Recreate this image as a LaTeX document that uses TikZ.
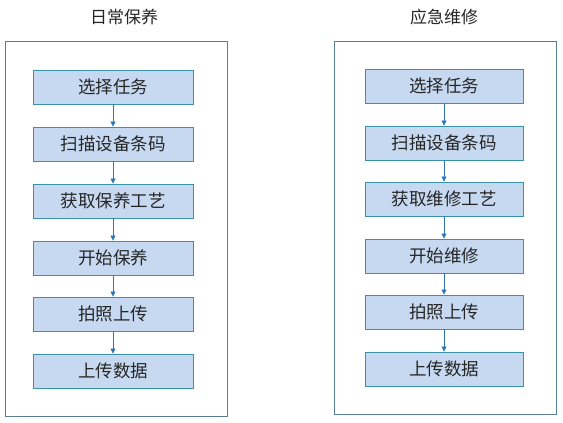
\documentclass[tikz,border=0pt]{standalone}
\usepackage{fontspec}
\newfontfamily\cjk{Noto Sans CJK SC}
\usetikzlibrary{arrows.meta}
\definecolor{boxfill}{HTML}{C6D9F1}
\definecolor{boxline}{HTML}{3A93A5}
\definecolor{outerline}{HTML}{5A7D9A}
\definecolor{arrowcol}{HTML}{2E75B6}
\begin{document}
\begin{tikzpicture}[x=1pt,y=-1pt,
  stepbox/.style={draw=boxline,fill=boxfill,line width=0.9pt,minimum width=160pt,minimum height=34pt,inner sep=0pt,font=\cjk\fontsize{17.5}{19}\selectfont,text=black!85},
  outerbox/.style={draw=outerline,line width=0.9pt,fill=white},
  titletext/.style={font=\cjk\fontsize{17}{19}\selectfont,text=black!85},
  flow/.style={draw=arrowcol,line width=0.8pt,-{Triangle[length=5pt,width=5pt]}}]
\useasboundingbox (0,0) rectangle (563,423);
\fill[white] (0,0) rectangle (563,423);
% left column
\node[titletext] (lt) at (124,17) {日常保养};
\draw[outerbox] (5,41) rectangle (227,416);
\node[stepbox] (l1) at (113,87) {选择任务};
\node[stepbox] (l2) at (113,144) {扫描设备条码};
\node[stepbox] (l3) at (113,201) {获取保养工艺};
\node[stepbox] (l4) at (113,258) {开始保养};
\node[stepbox] (l5) at (113,314) {拍照上传};
\node[stepbox] (l6) at (113,371) {上传数据};
\foreach \a/\b in {l1/l2,l2/l3,l3/l4,l4/l5,l5/l6}
  \draw[flow] (\a.south) -- (\b.north);
% right column
\node[titletext] (rt) at (444,17) {应急维修};
\draw[outerbox] (334,41) rectangle (556,414);
\node[stepbox,minimum width=158pt] (r1) at (444,86) {选择任务};
\node[stepbox,minimum width=158pt] (r2) at (444,143) {扫描设备条码};
\node[stepbox,minimum width=158pt] (r3) at (444,199) {获取维修工艺};
\node[stepbox,minimum width=158pt] (r4) at (444,256) {开始维修};
\node[stepbox,minimum width=158pt] (r5) at (444,312) {拍照上传};
\node[stepbox,minimum width=158pt] (r6) at (444,369) {上传数据};
\foreach \a/\b in {r1/r2,r2/r3,r3/r4,r4/r5,r5/r6}
  \draw[flow] (\a.south) -- (\b.north);
\end{tikzpicture}
\end{document}
